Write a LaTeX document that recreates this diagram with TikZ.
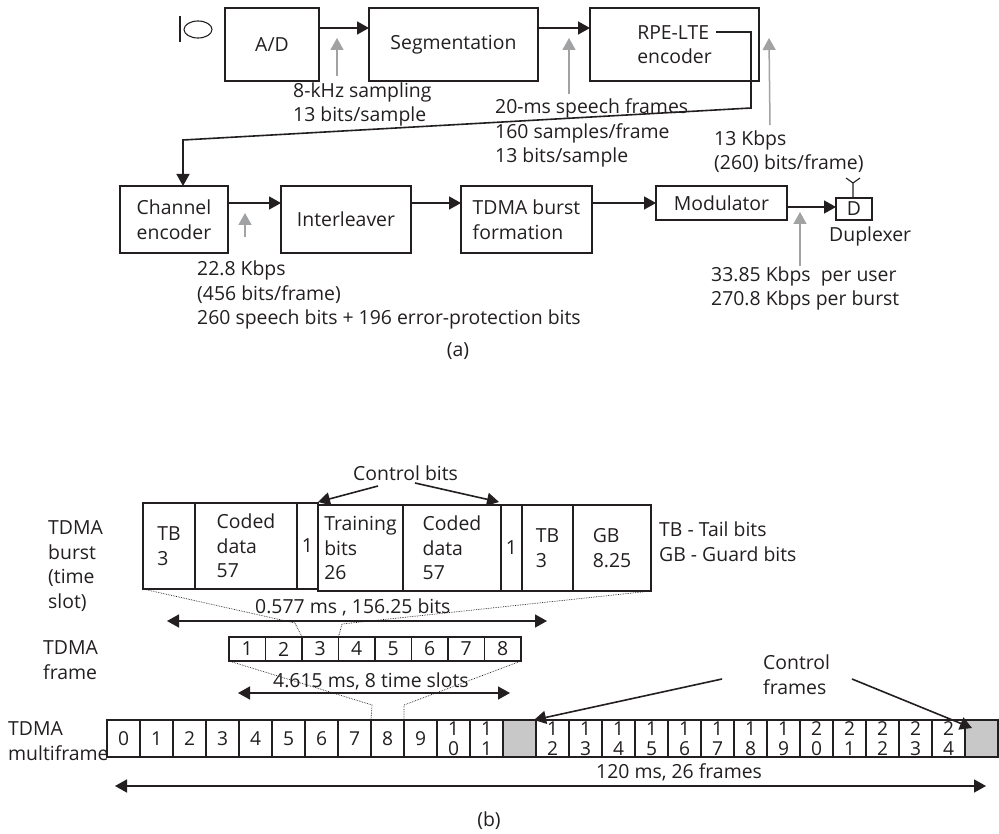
\documentclass[tikz,border=0pt]{standalone}
\usepackage{xcolor}
\usepackage{fontspec}
\setmainfont{Open Sans}
\usetikzlibrary{arrows.meta}
\definecolor{inkdark}{HTML}{231F20}
\definecolor{arrowgray}{HTML}{A0A2A4}
\definecolor{slotgray}{HTML}{C8C8C8}
\tikzset{
  txtfont/.style={font=\fontsize{19.4}{24.5}\selectfont},
  blockbox/.style={draw=inkdark, line width=1.6pt, rectangle, inner sep=0pt, outer sep=0pt, align=left, text=inkdark, txtfont},
  slotbox/.style={blockbox, line width=1.4pt},
  framecell/.style={slotbox, minimum width=36.5pt, minimum height=24pt, anchor=north west},
  multicell/.style={slotbox, minimum width=33pt, minimum height=37pt, anchor=north west, align=center, font=\fontsize{19.2}{20}\selectfont},
  lbl/.style={anchor=base west, inner sep=0pt, align=left, text=inkdark, txtfont},
  flow/.style={draw=inkdark, line width=1.6pt, -{Triangle[length=12pt,width=13pt]}},
  both/.style={draw=inkdark, line width=1.6pt, {Triangle[length=12pt,width=13pt]}-{Triangle[length=12pt,width=13pt]}},
  rate/.style={draw=arrowgray, line width=1.5pt, -{Triangle[length=12pt,width=13pt]}},
  zoomline/.style={draw=inkdark, line width=0.7pt, densely dotted}
}
\begin{document}
\begin{tikzpicture}[x=1pt,y=-1pt]
    \useasboundingbox (0,0) rectangle (999,834);

    % (a) speech chain
    \node[blockbox, minimum width=94pt, minimum height=73pt] (ad) at (272,44.5) {\raisebox{-2pt}{A/D}};
    \node[blockbox, minimum width=169pt, minimum height=73pt] (seg) at (453.5,44.5) {\raisebox{-2pt}{Segmentation}};
    \node[blockbox, minimum width=169pt, minimum height=73pt] (rpe) at (674.5,44.5) {RPE-LTE\hspace{28pt}\\encoder};
    \node[blockbox, minimum width=108pt, minimum height=67pt] (chan) at (174,219.5) {Channel\\encoder};
    \node[blockbox, minimum width=130pt, minimum height=67pt] (inter) at (346,219.5) {Interleaver};
    \node[blockbox, minimum width=131pt, minimum height=67pt] (burst) at (526.5,219.5) {TDMA burst\\formation};
    \node[blockbox, minimum width=131pt, minimum height=34pt] (modu) at (721.5,203) {Modulator};
    \node[blockbox, minimum width=36pt, minimum height=22pt] (dup) at (854,209) {D};

    \draw[inkdark, line width=1.1pt] (180,16) -- (180,42);
    \draw[inkdark, line width=1.1pt] (198,29.5) ellipse (14 and 8.5);
    \coordinate (antop) at (853,183);
    \draw[inkdark, line width=1.1pt] (dup.north -| antop) -- (antop) -- (846,178) (antop) -- (860,178);

    \node[lbl] (lab1) at (293,122) {8-kHz sampling\\13 bits/sample};
    \node[lbl] (lab2) at (495,163) {20-ms speech frames\\160 samples/frame\\13 bits/sample};
    \node[lbl] (lab3) at (714,170) {13 Kbps\\(260) bits/frame)};
    \node[lbl] (lab4) at (197,325) {22.8 Kbps\\(456 bits/frame)\\260 speech bits + 196 error-protection bits};
    \node[lbl] (lab5) at (711,306) {33.85 Kbps~ per user\\270.8 Kbps per burst};
    \node[lbl] (labdup) at (829,242) {Duplexer};
    \node[lbl, anchor=base] (capa) at (458,357) {(a)};

    \coordinate (row1) at (0,28);
    \coordinate (row2) at (0,203);
    \draw[flow] (ad.east |- row1) -- (seg.west |- row1);
    \draw[flow] (seg.east |- row1) -- (rpe.west |- row1);
    \draw[flow] (chan.east |- row2) -- (inter.west |- row2);
    \draw[flow] (inter.east |- row2) -- (burst.west |- row2);
    \draw[flow] (burst.east |- row2) -- (modu.west |- row2);
    \coordinate (row3) at (0,207);
    \draw[flow] (modu.east |- row3) -- (dup.west |- row3);

    \coordinate (rpeout) at (716,32);
    \coordinate (rpecorner) at (751,32);
    \coordinate (rpedown) at (751,108);
    \coordinate (chanturn) at (183,140);
    \draw[flow] (rpeout) -- (rpecorner) -- (rpedown) -- (chanturn) -- (chanturn |- chan.north);

    \coordinate (r1a) at (337,76);   \coordinate (r1b) at (337,38);
    \coordinate (r2a) at (569,94);   \coordinate (r2b) at (569,38);
    \coordinate (r3a) at (770,125);  \coordinate (r3b) at (769,38);
    \coordinate (r4a) at (245,237);  \coordinate (r4b) at (245,213);
    \coordinate (r5a) at (800,266);  \coordinate (r5b) at (800,212);
    \foreach \i in {1,...,5}
        \draw[rate] (r\i a) -- (r\i b);

    % (b) time slot
    \node[slotbox, minimum width=52pt, minimum height=86pt] (tba) at (169,546) {TB\\3};
    \node[slotbox, minimum width=102pt, minimum height=86pt] (coda) at (246,546) {Coded\\data\\57};
    \node[slotbox, minimum width=21pt, minimum height=86pt] (onea) at (307.5,546) {1};
    \node[slotbox, minimum width=85pt, minimum height=86pt] (train) at (360.5,548) {Training\\bits\\26};
    \node[slotbox, minimum width=98pt, minimum height=86pt] (codb) at (452,548) {Coded\\data\\57};
    \node[slotbox, minimum width=21pt, minimum height=86pt] (oneb) at (511.5,548) {1};
    \node[slotbox, minimum width=51pt, minimum height=86pt] (tbb) at (547.5,548) {TB\\3};
    \node[slotbox, minimum width=78pt, minimum height=86pt] (gb) at (612,548) {GB\\8.25};

    \node[lbl] (labslot) at (48,608) {TDMA\\burst\\(time\\slot)};
    \node[lbl] (labframe) at (43,679) {TDMA\\frame};
    \node[lbl] (labmulti) at (8,760) {TDMA\\multiframe};
    \node[lbl] (labkey) at (659,561) {TB - Tail bits\\GB - Guard bits};
    \node[lbl] (labctrl) at (353,480) {Control bits};
    \node[lbl] (labslott) at (255,613) {0.577 ms , 156.25 bits};
    \node[lbl] (labfrt) at (273,687) {4.615 ms, 8 time slots};
    \node[lbl] (labmt) at (596,778) {120 ms, 26 frames};
    \node[lbl] (labcf) at (763,694) {Control\\frames};
    \node[lbl, anchor=base] (capb) at (489,826) {(b)};

    \foreach \i in {1,...,8}
        \node[framecell] (f\i) at ({229+36.5*(\i-1)},637) {\i};

    \foreach \lab/\tone [count=\i from 0] in {0/white,1/white,2/white,3/white,4/white,5/white,6/white,7/white,8/white,9/white,
        {1\\0}/white,{1\\1}/white,{}/slotgray,{1\\2}/white,{1\\3}/white,{1\\4}/white,{1\\5}/white,{1\\6}/white,{1\\7}/white,
        {1\\8}/white,{1\\9}/white,{2\\0}/white,{2\\1}/white,{2\\2}/white,{2\\3}/white,{2\\4}/white,{}/slotgray}
        \node[multicell, fill=\tone] (m\i) at ({107+33*\i},720) {\lab};

    \coordinate (ctla) at (378,486);  \coordinate (ctlb) at (318,502);
    \coordinate (ctlc) at (415,483);  \coordinate (ctld) at (499,502);
    \draw[flow] (ctla) -- (ctlb);
    \draw[flow] (ctlc) -- (ctld);
    \coordinate (cfa) at (722,679);   \coordinate (cfb) at (534,720);
    \coordinate (cfc) at (852,679);   \coordinate (cfd) at (972,728);
    \draw[flow] (cfa) -- (cfb);
    \draw[flow] (cfc) -- (cfd);

    \coordinate (spana) at (167,621); \coordinate (spanb) at (547,621);
    \coordinate (spanc) at (238,693); \coordinate (spand) at (510,693);
    \coordinate (spane) at (115,786); \coordinate (spanf) at (986,786);
    \draw[both] (spana) -- (spanb);
    \draw[both] (spanc) -- (spand);
    \draw[both] (spane) -- (spanf);

    \coordinate (za) at (295,623);    \coordinate (zb) at (342,624);
    \coordinate (zc) at (372,705);    \coordinate (zd) at (404,705);
    \draw[zoomline] (tba.south west) -- (za) -- (f3.north west);
    \draw[zoomline] (gb.south east) -- (zb) -- (f4.north west);
    \draw[zoomline] (f1.south west) -- (zc) -- (m8.north west);
    \draw[zoomline] (f8.south east) -- (zd) -- (m8.north east);
\end{tikzpicture}
\end{document}
